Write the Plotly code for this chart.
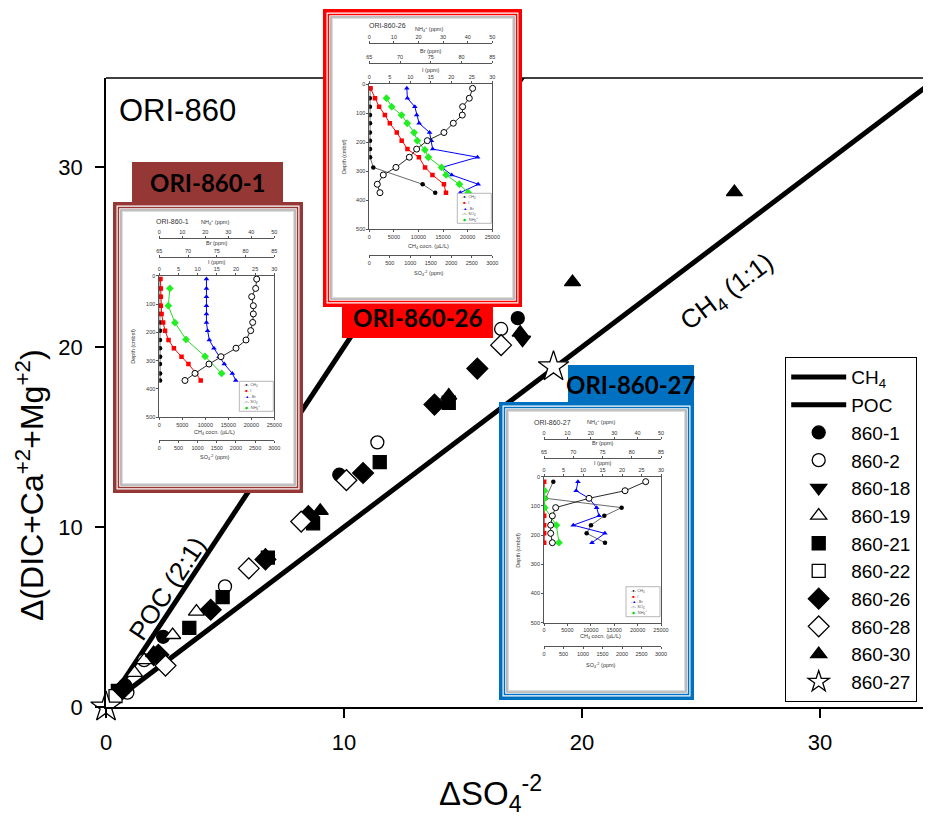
import plotly.graph_objects as go

# The page body adds an 8 px offset; the figure is sized so that it ends at the window edge.
OFF = 8
W, H = 931 - OFF, 817 - OFF

# ---------------- main chart data ----------------
ch4_line_x = [0, 40]
ch4_line_y = [0, 40]
poc_line_x = [0, 20]
poc_line_y = [0, 40]

s860_1_x = [0.8, 2.4, 9.8, 17.3]
s860_1_y = [1.2, 3.9, 12.9, 21.6]
s860_2_x = [0.9, 1.6, 5.0, 11.4, 16.6]
s860_2_y = [0.8, 2.6, 6.7, 14.7, 21.0]
s860_18_x = [0.6, 2.0, 17.5]
s860_18_y = [0.9, 2.7, 20.4]
s860_19_x = [1.2, 1.6, 2.8, 3.8]
s860_19_y = [1.9, 2.6, 4.0, 5.3]
s860_21_x = [0.5, 3.5, 4.9, 6.8, 8.7, 11.5, 14.4]
s860_21_y = [0.9, 4.4, 6.1, 8.3, 10.2, 13.6, 16.9]
s860_22_x = [0.4]
s860_22_y = [0.6]
s860_26_x = [0.7, 2.2, 4.4, 6.7, 8.5, 10.8, 13.8, 15.6]
s860_26_y = [1.0, 2.9, 5.4, 8.2, 10.6, 13.0, 16.8, 18.8]
s860_28_x = [2.5, 6.0, 8.2, 10.1, 16.6]
s860_28_y = [2.3, 7.7, 10.3, 12.6, 20.1]
s860_30_x = [2.0, 6.7, 9.0, 14.4, 17.4, 19.6, 26.4]
s860_30_y = [3.0, 8.4, 10.9, 17.3, 20.8, 23.6, 28.6]
s860_27_x = [0.0, 18.8]
s860_27_y = [0.0, 18.9]

main_xticks = [0, 10, 20, 30]
main_yticks = [0, 10, 20, 30]

# ---------------- inset data (depth profiles) ----------------
# ORI-860-1
i1_depth = [12, 45, 74, 106, 135, 165, 194, 227, 256, 286, 312, 345, 370]
i1_ch4 = [100, 120, 150, 130, 160, 140, 170, 150, 160, 180, 150, 170, 160]
i1_i = [0.3, 0.4, 0.4, 0.4, 0.6, 1.0, 1.5, 2.4, 3.8, 5.8, 7.6, 9.6, 10.8]
i1_br = [73.2, 73.2, 73.2, 73.2, 73.2, 73.2, 73.4, 73.7, 74.5, 75.4, 76.3, 77.7, 78.3]
i1_so4 = [2540, 2514, 2410, 2453, 2453, 2436, 2384, 2262, 2001, 1609, 1296, 931, 670]
i1_nh4_depth = [45, 106, 166, 225, 285, 345]
i1_nh4 = [4.6, 3.9, 6.8, 11.6, 19.9, 27.1]

# ORI-860-26
i2_depth = [15, 49, 78, 107, 135, 167, 195, 224, 252, 287, 313, 345, 374]
i2_ch4_depth = [15, 49, 78, 107, 135, 167, 195, 224, 252, 287, 345, 374]
i2_ch4 = [150, 120, 130, 140, 150, 130, 140, 150, 160, 810, 10840, 13400]
i2_i = [0.3, 1.4, 2.4, 3.8, 5.0, 6.7, 7.9, 9.3, 12.1, 13.6, 15.4, 18.2, 18.7]
i2_br = [71.1, 71.2, 72.4, 72.7, 73.1, 74.8, 75.1, 75.3, 82.6, 76.8, 78.4, 82.7, 79.8]
i2_so4 = [2520, 2439, 2276, 2268, 2049, 1821, 1415, 1154, 976, 650, 341, 195, 260]
i2_nh4_depth = [49, 78, 107, 135, 167, 195, 227, 252, 287, 313, 345, 374]
i2_nh4 = [7.0, 9.1, 13.1, 15.4, 18.2, 19.5, 22.6, 24.0, 29.4, 31.2, 36.6, 40.2]

# ORI-860-27
i3_depth = [17, 48, 74, 106, 134, 166, 194, 226]
i3_ch4_depth = [17, 74, 106, 134, 166, 194, 226]
i3_ch4 = [1990, 360, 16590, 12890, 10040, 9110, 13030]
i3_i = [0.05, 0.05, 0.05, 0.05, 0.05, 0.05, 0.05, 0.05]
i3_br = [70.8, 70.5, 72.7, 74.0, 74.4, 70.0, 75.4, 73.2]
i3_so4 = [2608, 2078, 1154, 299, 214, 171, 171, 214]
i3_nh4_depth = [48, 74, 106, 166, 226]
i3_nh4 = [0.2, 0.2, 0.3, 5.3, 6.4]

nh4_ticks = [0, 10, 20, 30, 40, 50]
br_ticks = [65, 70, 75, 80, 85]
i_ticks = [0, 5, 10, 15, 20, 25, 30]
ch4_ticks = [0, 5000, 10000, 15000, 20000, 25000]
so4_ticks = [0, 500, 1000, 1500, 2000, 2500, 3000]
depth_ticks = [0, 100, 200, 300, 400, 500]


def fx(p):
    return (p - OFF) / W


def fy(p):
    return 1 - (p - OFF) / H


FONT = "Liberation Sans, Arial, sans-serif"

fig = go.Figure()

# ---------------- main traces ----------------
fig.add_trace(go.Scatter(x=ch4_line_x, y=ch4_line_y, mode="lines", name="CH<sub>4</sub>",
                         line=dict(color="black", width=5)))
fig.add_trace(go.Scatter(x=poc_line_x, y=poc_line_y, mode="lines", name="POC",
                         line=dict(color="black", width=5)))

series = [
    ("860-1", s860_1_x, s860_1_y, "circle", "black", 13),
    ("860-2", s860_2_x, s860_2_y, "circle", "white", 13),
    ("860-18", s860_18_x, s860_18_y, "triangle-down", "black", 14),
    ("860-19", s860_19_x, s860_19_y, "triangle-up", "white", 14),
    ("860-21", s860_21_x, s860_21_y, "square", "black", 13),
    ("860-22", s860_22_x, s860_22_y, "square", "white", 13),
    ("860-26", s860_26_x, s860_26_y, "diamond", "black", 16),
    ("860-28", s860_28_x, s860_28_y, "diamond", "white", 16),
    ("860-30", s860_30_x, s860_30_y, "triangle-up", "black", 14),
    ("860-27", s860_27_x, s860_27_y, "star", "white", 23),
]
for name, xs, ys, sym, col, sz in series:
    fig.add_trace(go.Scatter(x=xs, y=ys, mode="markers", name=name, cliponaxis=False,
                             marker=dict(symbol=sym, color=col, size=sz,
                                         line=dict(color="black", width=1.3))))

layout = dict(
    width=W, height=H, margin=dict(l=0, r=0, t=0, b=0, pad=0, autoexpand=False),
    paper_bgcolor="white", plot_bgcolor="rgba(0,0,0,0)",
    font=dict(family=FONT, color="black"),
    showlegend=True,
    legend=dict(x=fx(785), y=fy(357), xanchor="left", yanchor="top",
                bgcolor="white", bordercolor="black", borderwidth=1.2,
                font=dict(size=19, family=FONT, color="black"),
                itemwidth=55, tracegroupgap=0),
    xaxis=dict(domain=[fx(106), 1.0], range=[0, 34.66], anchor="y", automargin=False,
               showline=True, linecolor="black", linewidth=1.5,
               ticks="outside", ticklen=9, tickwidth=1.5, tickcolor="black",
               tickvals=main_xticks, tickfont=dict(size=22, family=FONT),
               ticklabelstandoff=6, showgrid=False, zeroline=False, fixedrange=True),
    yaxis=dict(domain=[fy(707), fy(78)], range=[0, 34.94], anchor="x", automargin=False,
               showline=True, linecolor="black", linewidth=1.5,
               ticks="outside", ticklen=9, tickwidth=1.5, tickcolor="black",
               tickvals=main_yticks, tickfont=dict(size=22, family=FONT),
               ticklabelstandoff=8, showgrid=False, zeroline=False, fixedrange=True),
)

shapes = [dict(type="line", xref="paper", yref="paper", x0=fx(106), x1=1.0,
               y0=fy(78), y1=fy(78), line=dict(color="black", width=1.5), layer="below")]


def ann(text, x, y, size, xref="paper", yref="paper", angle=0, color="black", family=FONT,
        xanchor="center", yanchor="middle"):
    return dict(text=text, xref=xref, yref=yref, x=x, y=y, textangle=angle, showarrow=False,
                xanchor=xanchor, yanchor=yanchor,
                font=dict(size=size, family=family, color=color))


annotations = [
    ann("ORI-860", fx(117), fy(110), 31, xanchor="left"),
    ann("CH<sub>4</sub> (1:1)", 26.1, 23.05, 26, xref="x", yref="y", angle=-37),
    ann("POC (2:1)", 2.6, 6.6, 26, xref="x", yref="y", angle=-56.5),
    ann("Δ(DIC+Ca<sup>+2</sup>+Mg<sup>+2</sup>)", fx(30), fy(485), 32, angle=-90),
    ann("ΔSO<sub>4</sub><sup>-2</sup>", fx(490), fy(793), 33),
]

# ---------------- insets ----------------
insets = [
    dict(label="ORI-860-1", color="#953735", frame=(113, 202, 303, 493), tab=(132, 162, 283, 202),
         plot=(159.3, 275.7, 274.3, 417.3), nh4_line=238.3, br_line=256.7, so4_line=440,
         t_nh4=222, t_br=243, t_i=262, t_ch4=432, t_so4=457, ori=(172, 221),
         depth=i1_depth, ch4_depth=i1_depth, ch4=i1_ch4, i=i1_i, br=i1_br, so4=i1_so4,
         nh4_depth=i1_nh4_depth, nh4=i1_nh4),
    dict(label="ORI-860-26", color="#ff0000", frame=(323, 9, 522, 307), tab=(342, 295, 493, 338),
         plot=(369.3, 84, 492.3, 229.3), nh4_line=42.7, br_line=63.3, so4_line=255,
         t_nh4=29, t_br=50.7, t_i=70, t_ch4=246, t_so4=273, ori=(387, 26),
         depth=i2_depth, ch4_depth=i2_ch4_depth, ch4=i2_ch4, i=i2_i, br=i2_br, so4=i2_so4,
         nh4_depth=i2_nh4_depth, nh4=i2_nh4),
    dict(label="ORI-860-27", color="#0070c0", frame=(499, 402, 694, 700), tab=(568, 365, 694, 402),
         plot=(544, 476.7, 661, 622.7), nh4_line=439, br_line=457.7, so4_line=646,
         t_nh4=422, t_br=443, t_i=463, t_ch4=636.7, t_so4=665, ori=(552, 422),
         depth=i3_depth, ch4_depth=i3_ch4_depth, ch4=i3_ch4, i=i3_i, br=i3_br, so4=i3_so4,
         nh4_depth=i3_nh4_depth, nh4=i3_nh4),
]

small_ax = dict(showgrid=False, zeroline=False, showline=True, linecolor="#555", linewidth=0.8,
                ticks="outside", ticklen=2, tickwidth=0.8, tickcolor="#555", automargin=False,
                tickfont=dict(size=5.5, color="#333", family=FONT), fixedrange=True,
                ticklabelstandoff=0, tickformat="d")


def rect_trace(x0, y0, x1, y1, color, xa, ya):
    return go.Scatter(x=[x0, x1, x1, x0, x0], y=[y0, y0, y1, y1, y0], mode="lines",
                      fill="toself", fillcolor=color, line=dict(width=0, color=color),
                      hoverinfo="skip", showlegend=False, xaxis=xa, yaxis=ya)


for k, G in enumerate(insets):
    base = 2 + 6 * k
    fxid, cid = base, base + 1
    iid, brid, nhid, soid = base + 2, base + 3, base + 4, base + 5
    fl, ft, fr, fb = G["frame"]
    tl, tt, tr, tb = G["tab"]
    bl, bt, br_, bb = min(fl, tl), min(ft, tt), max(fr, tr), max(fb, tb)
    # frame subplot (pixel coordinates)
    layout[f"xaxis{fxid}"] = dict(domain=[fx(bl), fx(br_)], range=[bl, br_], visible=False,
                                  anchor=f"y{fxid}", fixedrange=True, automargin=False)
    layout[f"yaxis{fxid}"] = dict(domain=[fy(bb), fy(bt)], range=[bb, bt], visible=False,
                                  anchor=f"x{fxid}", fixedrange=True, automargin=False)
    xa, ya = f"x{fxid}", f"y{fxid}"
    fig.add_trace(rect_trace(tl, tt, tr, tb, G["color"], xa, ya))
    for inset_px, col in [(0, G["color"]), (3.5, "white"), (4.7, G["color"]), (6.2, "white"),
                          (7.2, "#a8a8a8"), (8.6, "#dcdcdc"), (10, "white")]:
        fig.add_trace(rect_trace(fl + inset_px, ft + inset_px, fr - inset_px, fb - inset_px,
                                 col, xa, ya))
    annotations.append(ann(f"<b>{G['label']}</b>", fx((tl + tr) / 2), fy((tt + tb) / 2 + 1), 24,
                           family="Lato, Liberation Sans"))

    pl, pt, pr, pb = G["plot"]
    cx = f"x{cid}"
    cy = f"y{cid}"
    layout[f"xaxis{cid}"] = dict(small_ax, domain=[fx(pl), fx(pr)], range=[0, 25000], anchor=cy,
                                 side="bottom", tickvals=ch4_ticks, mirror=True)
    layout[f"yaxis{cid}"] = dict(small_ax, domain=[fy(pb), fy(pt)], range=[500, 0], anchor=cx,
                                 tickvals=depth_ticks, mirror=True)
    layout[f"xaxis{iid}"] = dict(small_ax, overlaying=cx, anchor=cy, side="top",
                                 range=[0, 30], tickvals=i_ticks)
    layout[f"xaxis{brid}"] = dict(small_ax, overlaying=cx, anchor="free", position=fy(G["br_line"]),
                                  side="top", range=[65, 85], tickvals=br_ticks)
    layout[f"xaxis{nhid}"] = dict(small_ax, overlaying=cx, anchor="free", position=fy(G["nh4_line"]),
                                  side="top", range=[0, 50], tickvals=nh4_ticks)
    layout[f"xaxis{soid}"] = dict(small_ax, overlaying=cx, anchor="free", position=fy(G["so4_line"]),
                                  side="bottom", range=[0, 3000], tickvals=so4_ticks)

    fig.add_trace(go.Scatter(x=G["ch4"], y=G["ch4_depth"], xaxis=cx, yaxis=cy, mode="lines+markers",
                             showlegend=False, line=dict(color="#444", width=0.8),
                             marker=dict(symbol="circle", size=4.5, color="black")))
    fig.add_trace(go.Scatter(x=G["i"], y=G["depth"], xaxis=f"x{iid}", yaxis=cy, mode="lines+markers",
                             showlegend=False, line=dict(color="#ff0000", width=1),
                             marker=dict(symbol="square", size=4.5, color="#ff0000")))
    fig.add_trace(go.Scatter(x=G["br"], y=G["depth"], xaxis=f"x{brid}", yaxis=cy, mode="lines+markers",
                             showlegend=False, line=dict(color="#0000ff", width=1),
                             marker=dict(symbol="triangle-up", size=5, color="#0000ff")))
    fig.add_trace(go.Scatter(x=G["so4"], y=G["depth"], xaxis=f"x{soid}", yaxis=cy, mode="lines+markers",
                             showlegend=False, line=dict(color="#111", width=0.9),
                             marker=dict(symbol="circle", size=6, color="white",
                                         line=dict(color="black", width=1))))
    fig.add_trace(go.Scatter(x=G["nh4"], y=G["nh4_depth"], xaxis=f"x{nhid}", yaxis=cy,
                             mode="lines+markers", showlegend=False,
                             line=dict(color="#22dd22", width=1),
                             marker=dict(symbol="diamond", size=6, color="#22ee22")))

    mid = (pl + pr) / 2
    for txt, xx, yy in [("NH<sub>4</sub><sup>+</sup> (ppm)", mid - 2, G["t_nh4"]),
                        ("Br (ppm)", mid, G["t_br"]),
                        ("I (ppm)", mid, G["t_i"]),
                        ("CH<sub>4</sub> cocn. (µL/L)", mid - 2, G["t_ch4"]),
                        ("SO<sub>4</sub><sup>-2</sup> (ppm)", mid - 2, G["t_so4"])]:
        annotations.append(ann(txt, fx(xx), fy(yy), 5.5, color="#333"))
    annotations.append(ann(G["label"], fx(G["ori"][0]), fy(G["ori"][1]), 7, color="#333"))
    annotations.append(ann("Depth (cmbsf)", fx(pl - 26), fy((pt + pb) / 2), 5.5, angle=-90,
                           color="#333"))
    # tiny inset legend
    lx0, ly0, lx1, ly1 = pr - 35, pb - 36, pr - 1, pb - 6
    shapes.append(dict(type="rect", xref="paper", yref="paper", x0=fx(lx0), x1=fx(lx1),
                       y0=fy(ly1), y1=fy(ly0), line=dict(color="#999", width=0.7),
                       fillcolor="white", layer="above"))
    rows = [("#000", "●", "CH<sub>4</sub>"), ("#f00", "■", "I"), ("#00f", "▲", "Br"),
            ("#000", "○", "SO<sub>4</sub>"), ("#0c0", "◆", "NH<sub>4</sub><sup>+</sup>")]
    for r, (col, sym, lab) in enumerate(rows):
        annotations.append(ann(
            f'<span style="color:{col}">-{sym}-</span> <span style="color:#555">{lab}</span>',
            fx(lx0 + 3), fy(ly0 + 4 + r * 5.5), 4, xanchor="left"))

layout["shapes"] = shapes
layout["annotations"] = annotations
fig.update_layout(**layout)

fig.write_html("out.html", config={"displayModeBar": False})
